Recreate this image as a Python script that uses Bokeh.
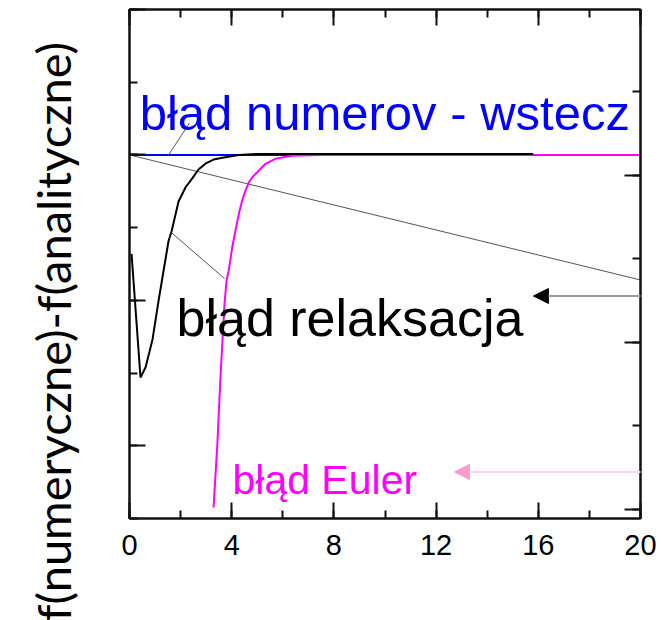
import math
from bokeh.plotting import figure
from bokeh.layouts import row
from bokeh.models import (LinearAxis, Range1d, SingleIntervalTicker, Label, Arrow,
                          NormalHead)
from bokeh.embed import file_html
from bokeh.resources import INLINE

# ---- data ----
x_relax = [0.08, 0.43, 0.63, 0.90, 1.14, 1.33, 1.53, 1.64, 1.92, 2.19, 2.47, 2.70, 2.97, 3.29, 3.64, 4.27, 5.0, 8.0, 12.0, 15.8]
y_relax = [-0.68, -1.53, -1.46, -1.27, -1.00, -0.80, -0.59, -0.53, -0.32, -0.224, -0.158, -0.10, -0.06, -0.032, -0.02, 0.0, 0.006, 0.006, 0.006, 0.006]

x_euler = [3.29, 3.44, 3.56, 3.72, 3.80, 3.886, 4.02, 4.15, 4.28, 4.41, 4.54, 4.67, 4.83, 5.00, 5.19, 5.32, 5.71, 6.37, 7.48, 20.0]
y_euler = [-2.424, -1.985, -1.53, -1.02, -0.86, -0.795, -0.635, -0.52, -0.405, -0.314, -0.245, -0.188, -0.149, -0.119, -0.085, -0.062, -0.027, -0.006, 0.0, 0.0]

x_numerov = [0.0, 15.8]
y_numerov = [0.0, 0.0]

x_trend = [0.0, 20.0]
y_trend = [0.0, -0.86]

# annotation anchor points (data units)
lead_numerov_x = [2.35, 1.53]
lead_numerov_y = [0.22, 0.0]
lead_relax_x = [1.64, 3.72]
lead_relax_y = [-0.534, -0.85]

y_title = "f(numeryczne)-f(analityczne)"

FONT = "Liberation Sans"

# ---- left strip holding the vertical axis title ----
t = figure(width=100, height=620, x_range=Range1d(0, 100), y_range=Range1d(0, 620),
           x_axis_type=None, y_axis_type=None, output_backend="svg", toolbar_location=None,
           min_border=0)
t.title.visible = False
t.xgrid.visible = False
t.ygrid.visible = False
t.outline_line_color = None
if "frame_align" in t.properties():
    t.frame_align = False
t.add_layout(Label(x=52, y=289, text=y_title, text_font="Lato", text_font_size="47px",
                   text_color="black", angle=math.pi / 2, text_align="center",
                   text_baseline="alphabetic"))

# ---- main plot ----
p = figure(width=561, height=620, x_range=Range1d(0, 20), y_range=Range1d(-2.5, 1.0),
           output_backend="svg", toolbar_location=None,
           min_border_left=29, min_border_right=21, min_border_top=9, min_border_bottom=102)
if "frame_align" in p.properties():
    p.frame_align = False
p.extra_y_ranges = {"right": Range1d(-0.054, 2.994)}
p.xgrid.visible = False
p.ygrid.visible = False
p.outline_line_color = "#111111"
p.outline_line_width = 2
p.background_fill_color = "white"
p.border_fill_color = "white"


def style_axis(ax, show_labels=False):
    ax.axis_line_color = "#111111"
    ax.axis_line_width = 2
    ax.major_tick_line_color = "#111111"
    ax.major_tick_line_width = 2
    ax.minor_tick_line_color = "#111111"
    ax.minor_tick_line_width = 2
    ax.major_tick_in = 16
    ax.major_tick_out = 0
    ax.minor_tick_in = 8
    ax.minor_tick_out = 0
    if show_labels:
        ax.major_label_text_font = FONT
        ax.major_label_text_font_size = "29px"
        ax.major_label_text_color = "black"
        ax.major_label_standoff = 16
    else:
        ax.major_label_text_font_size = "1px"
        ax.major_label_text_color = None
        ax.major_label_standoff = 0


# bottom axis
xb = p.xaxis[0]
xb.ticker = SingleIntervalTicker(interval=4, num_minor_ticks=2)
style_axis(xb, show_labels=True)

# left axis
yl = p.yaxis[0]
yl.ticker = SingleIntervalTicker(interval=1, num_minor_ticks=2)
style_axis(yl)

# top axis
xt = LinearAxis(ticker=SingleIntervalTicker(interval=4, num_minor_ticks=2))
style_axis(xt)
p.add_layout(xt, "above")

# right axis
yr = LinearAxis(y_range_name="right", ticker=SingleIntervalTicker(interval=1, num_minor_ticks=2))
style_axis(yr)
p.add_layout(yr, "right")

# ---- series ----
p.line(x_trend, y_trend, line_color="#555555", line_width=1)
p.line(x_numerov, y_numerov, line_color="#0000FF", line_width=2)
p.line(x_euler, y_euler, line_color="#FF00FF", line_width=2)
p.line(x_relax, y_relax, line_color="black", line_width=2)

# leader lines
p.line(lead_numerov_x, lead_numerov_y, line_color="#555555", line_width=1)
p.line(lead_relax_x, lead_relax_y, line_color="#555555", line_width=1)

# ---- texts ----
p.add_layout(Label(x=0.40, y=0.285, text="błąd numerov - wstecz", text_font=FONT,
                   text_font_size="49px", text_color="#0000FF", text_baseline="alphabetic"))
p.add_layout(Label(x=1.84, y=-1.118, text="błąd relaksacja", text_font=FONT,
                   text_font_size="52px", text_color="black", text_baseline="alphabetic"))
p.add_layout(Label(x=4.03, y=-2.232, text="błąd Euler", text_font=FONT,
                   text_font_size="41px", text_color="#FF00FF", text_baseline="alphabetic"))

# arrows
p.add_layout(Arrow(end=NormalHead(size=15, fill_color="black", line_color="black"),
                   x_start=20.85, y_start=-0.97, x_end=15.81, y_end=-0.97,
                   line_color="#9a9a9a", line_width=2))
p.add_layout(Arrow(end=NormalHead(size=15, fill_color="#FF99CC", line_color="#FF99CC"),
                   x_start=20.85, y_start=-2.18, x_end=12.72, y_end=-2.18,
                   line_color="#FFD6EA", line_width=2))

layout = row(t, p, spacing=0)
open("out.html", "w").write(file_html(layout, INLINE))
